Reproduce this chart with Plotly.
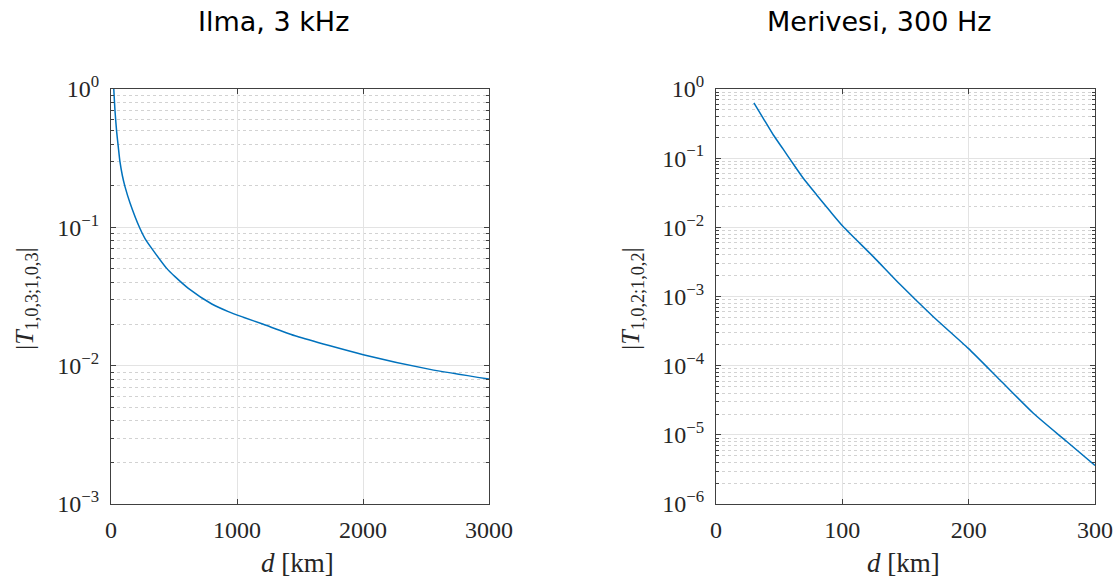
import plotly.graph_objects as go

# Left panel: Ilma, 3 kHz
ilma_d = [22, 32, 45, 58, 71, 90, 111, 151, 230, 270, 323, 442, 508, 614, 800, 931, 1050,
          1209, 1474, 2002, 2532, 3000]
ilma_t = [1.0, 0.69, 0.49, 0.38, 0.298, 0.237, 0.197, 0.150, 0.098, 0.083, 0.0705, 0.0505,
          0.044, 0.0362, 0.0279, 0.0246, 0.0224, 0.0199, 0.0163, 0.0120, 0.0094, 0.0080]

# Right panel: Merivesi, 300 Hz
meri_d = [30, 37.4, 45.4, 53.3, 59.9, 69.1, 79.7, 90.2, 100.8, 124.5, 145.6, 172, 199.7,
          224.8, 251.2, 277.6, 300]
meri_t = [0.63, 0.377, 0.216, 0.134, 0.089, 0.0512, 0.0294, 0.0172, 0.0102, 0.00377, 0.0015,
          5.1e-4, 1.78e-4, 6.2e-5, 2.05e-5, 8.0e-6, 3.6e-6]

left_xticks = [0, 1000, 2000, 3000]
right_xticks = [0, 100, 200, 300]
left_yexp = [0, -1, -2, -3]
right_yexp = [0, -1, -2, -3, -4, -5, -6]

titles = ["Ilma, 3 kHz", "Merivesi, 300 Hz"]
ylabels = ["|<i>T</i><sub>1,0,3;1,0,3</sub>|", "|<i>T</i><sub>1,0,2;1,0,2</sub>|"]
xlabel = "<i>d</i> [km]"

W, H = 1120, 579
SERIF = "Liberation Serif"
BLUE = "#0072BD"


def px(x):
    return x / W


def py(y):
    return 1 - y / H


fig = go.Figure()
fig.add_trace(go.Scatter(x=ilma_d, y=ilma_t, mode="lines",
                         line=dict(color=BLUE, width=1.5, shape="spline", smoothing=0.6),
                         xaxis="x", yaxis="y", showlegend=False))
fig.add_trace(go.Scatter(x=meri_d, y=meri_t, mode="lines",
                         line=dict(color=BLUE, width=1.5, shape="spline", smoothing=0.6),
                         xaxis="x2", yaxis="y2", showlegend=False))


def sup(e):
    s = str(e).replace("-", "\u2212")
    return f"10<sup>{s}</sup>"


ydom = [py(504), py(89)]
xdoms = [[px(111), px(489)], [px(716), px(1095)]]

common_x = dict(showline=True, linecolor="#404040", linewidth=1.2, mirror="ticks",
                ticks="inside", ticklen=5, tickcolor="#404040", automargin=False,
                ticklabelstandoff=4,
                showgrid=True, gridcolor="#e3e3e3", gridwidth=1, zeroline=False,
                tickfont=dict(family=SERIF, size=24, color="#262626"))
common_y = dict(type="log", showline=True, linecolor="#404040", linewidth=1.2, mirror="ticks",
                ticks="inside", ticklen=5, tickcolor="#404040", automargin=False,
                ticklabelstandoff=6,
                showgrid=True, gridcolor="#e3e3e3", gridwidth=1, zeroline=False,
                tickfont=dict(family=SERIF, size=24, color="#262626"),
                minor=dict(dtick="D1", showgrid=True, gridcolor="#d2d2d2", griddash="dot",
                           ticks="inside", ticklen=3, tickcolor="#404040"))

fig.update_layout(
    width=W, height=H, margin=dict(l=0, r=0, t=0, b=0, autoexpand=False),
    paper_bgcolor="white", plot_bgcolor="white",
    xaxis=dict(domain=xdoms[0], anchor="y", range=[0, 3000], tickvals=left_xticks,
               ticktext=[str(v) for v in left_xticks], **common_x),
    yaxis=dict(domain=ydom, anchor="x", range=[-3, 0], tickvals=[10.0 ** e for e in left_yexp],
               ticktext=[sup(e) for e in left_yexp], **common_y),
    xaxis2=dict(domain=xdoms[1], anchor="y2", range=[0, 300], tickvals=right_xticks,
                ticktext=[str(v) for v in right_xticks], **common_x),
    yaxis2=dict(domain=ydom, anchor="x2", range=[-6, 0], tickvals=[10.0 ** e for e in right_yexp],
                ticktext=[sup(e) for e in right_yexp], **common_y),
)

# Panel titles
for i, cx in enumerate([273, 879]):
    fig.add_annotation(x=px(cx), y=py(21), xref="paper", yref="paper", text=titles[i],
                       showarrow=False, font=dict(family="DejaVu Sans", size=27, color="black"),
                       xanchor="center", yanchor="middle")
# x labels
for cx in [297, 903]:
    fig.add_annotation(x=px(cx), y=py(563), xref="paper", yref="paper", text=xlabel,
                       showarrow=False, font=dict(family=SERIF, size=27, color="#262626"),
                       xanchor="center", yanchor="middle")
# y labels
for i, cx in enumerate([26, 632]):
    fig.add_annotation(x=px(cx), y=py(299), xref="paper", yref="paper", text=ylabels[i],
                       showarrow=False, textangle=-90,
                       font=dict(family=SERIF, size=26, color="#262626"),
                       xanchor="center", yanchor="middle")

fig.write_html("out.html", config={"displayModeBar": False},
               post_script="document.body.style.margin='0';document.body.style.overflow='hidden';")
